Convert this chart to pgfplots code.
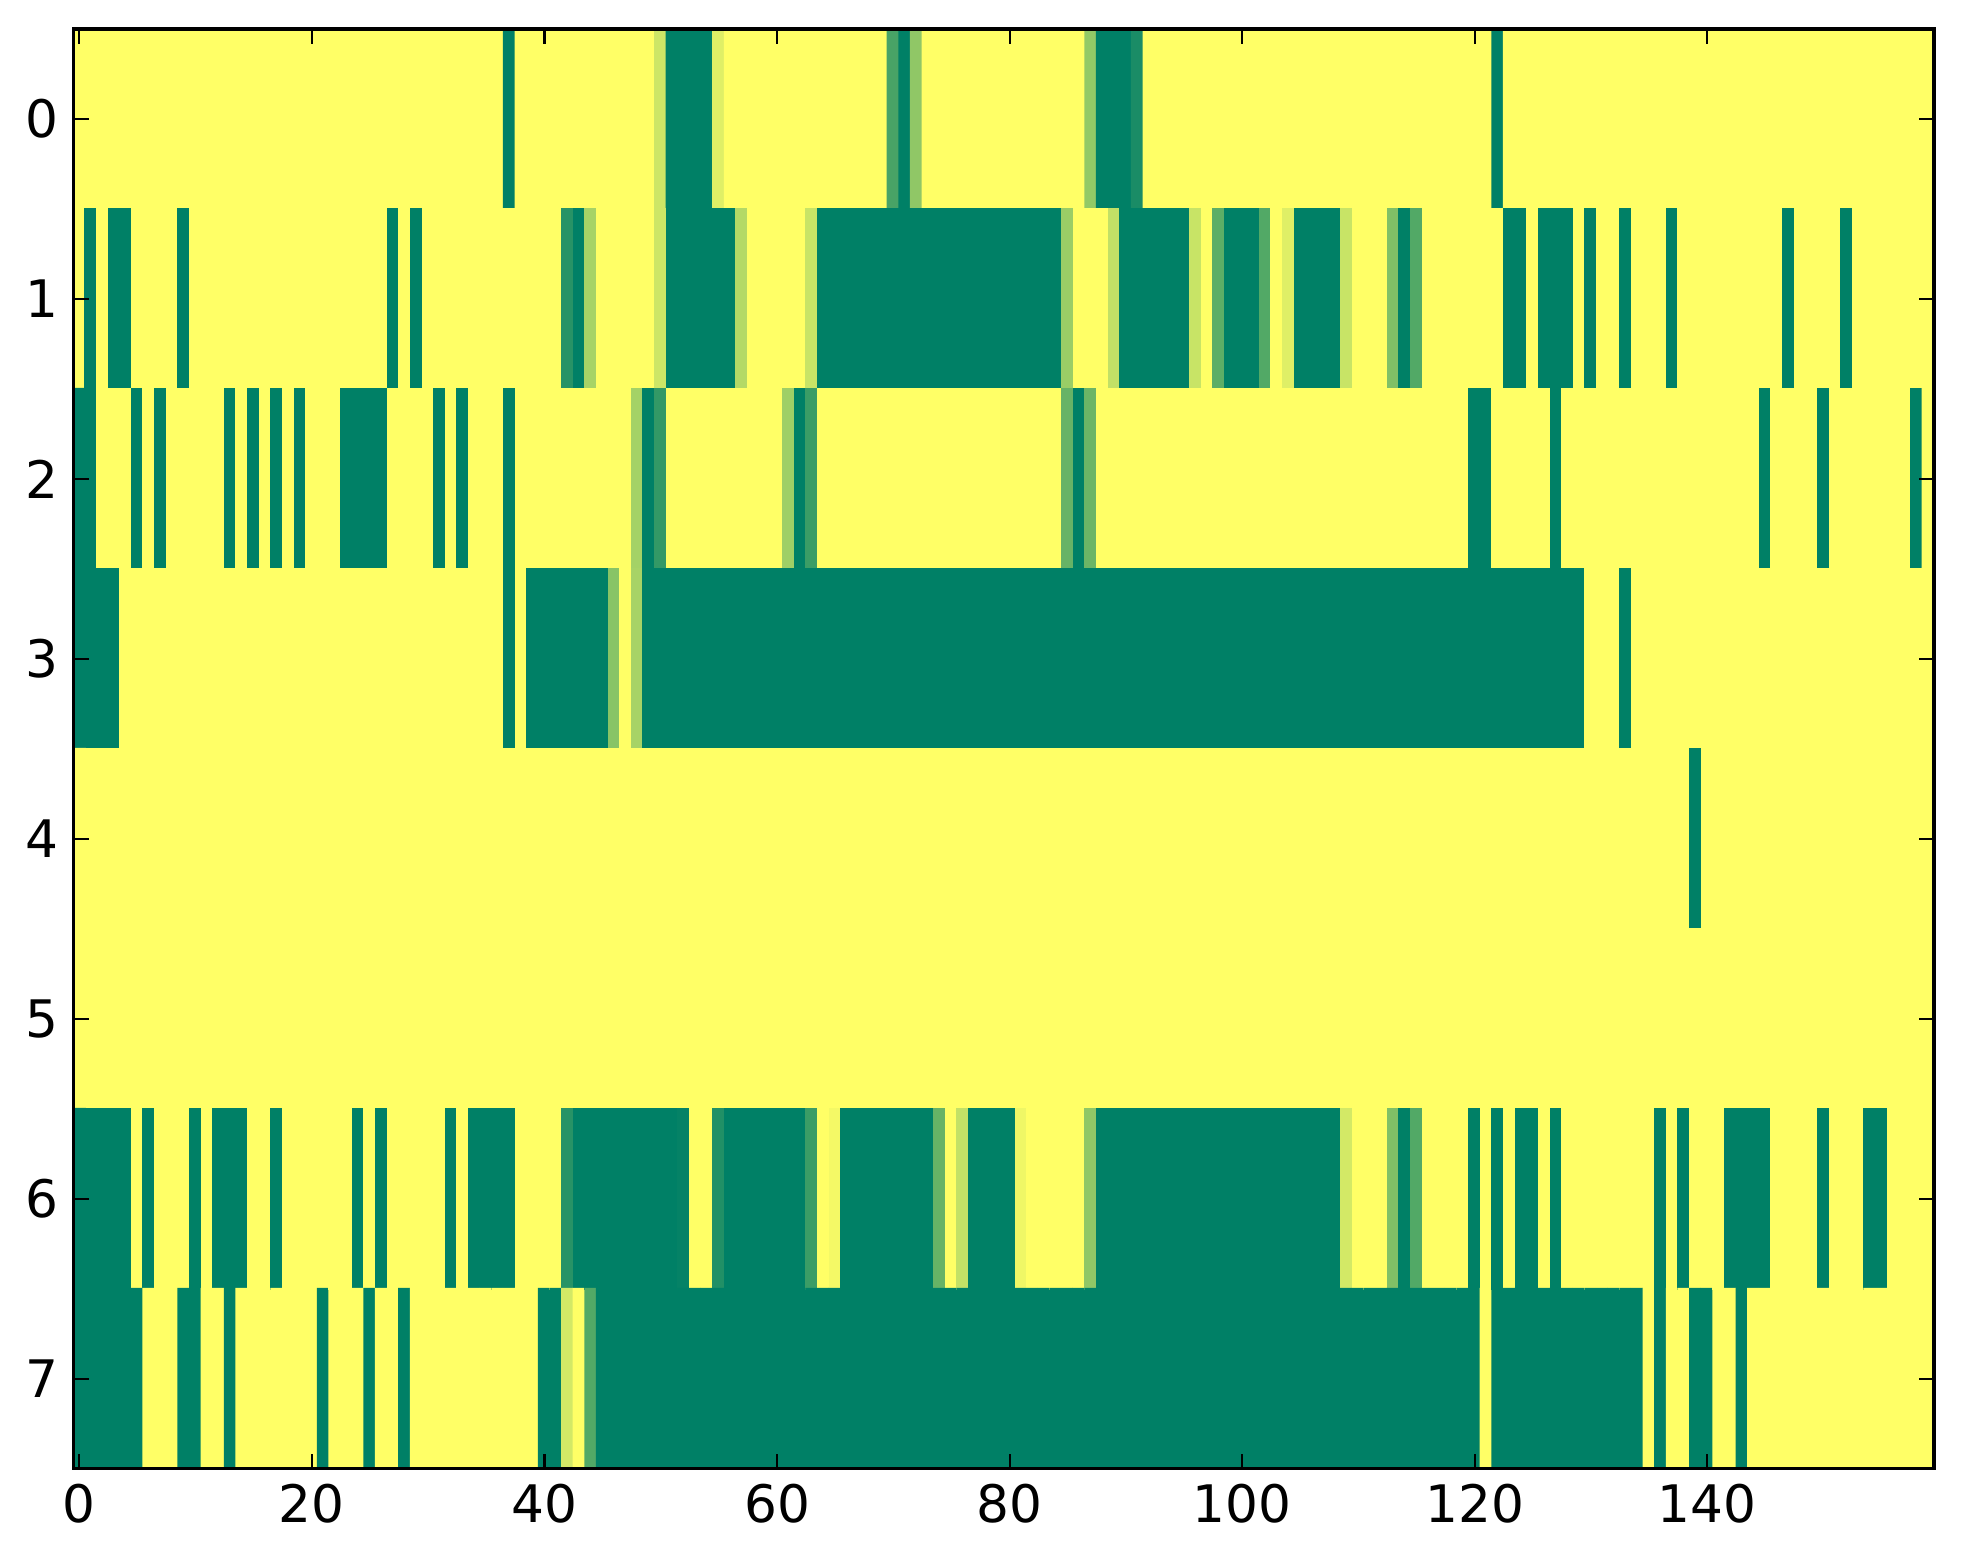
\documentclass[border=0pt]{standalone}
\usepackage{fontspec}
\setmainfont{DejaVu Sans}
\usepackage{pgfplots}
\pgfplotsset{compat=1.18}
\begin{document}
\begin{tikzpicture}
\begin{axis}[
  scale only axis, width=431.6pt, height=334pt,
  xmin=-0.5, xmax=159.5, ymin=-0.5, ymax=7.5,
  y dir=reverse, enlargelimits=false, axis on top,
  xtick={0,20,...,140}, ytick={0,...,7},
  tick align=inside, major tick length=3.5pt,
  axis line style={line width=0.8pt},
  tick style={line width=0.5pt, black},
  tick label style={font=\fontsize{12}{14}\selectfont},
  /pgf/number format/assume math mode=true,
  colormap={summer}{rgb=(0,0.5,0.4) rgb=(1,1,0.4)},
  point meta min=0, point meta max=1,
]
\addplot[matrix plot*, mesh/cols=160, point meta=explicit]
 table[row sep=\\, header=false, x expr={mod(\coordindex,160)}, y expr={floor(\coordindex/160)}, meta index=0] {
1\\1\\1\\1\\1\\1\\1\\1\\1\\1\\ 1\\1\\1\\1\\1\\1\\1\\1\\1\\1\\ 1\\1\\1\\1\\1\\1\\1\\1\\1\\1\\ 1\\1\\1\\1\\1\\1\\1\\0\\1\\1\\ 1\\1\\1\\1\\1\\1\\1\\1\\1\\1\\ 0.8\\0\\0\\0\\0\\0.87\\1\\1\\1\\1\\ 1\\1\\1\\1\\1\\1\\1\\1\\1\\1\\ 0.28\\0\\0.56\\1\\1\\1\\1\\1\\1\\1\\ 1\\1\\1\\1\\1\\1\\1\\0.57\\0\\0\\ 0\\0.1\\1\\1\\1\\1\\1\\1\\1\\1\\ 1\\1\\1\\1\\1\\1\\1\\1\\1\\1\\ 1\\1\\1\\1\\1\\1\\1\\1\\1\\1\\ 1\\1\\0\\1\\1\\1\\1\\1\\1\\1\\ 1\\1\\1\\1\\1\\1\\1\\1\\1\\1\\ 1\\1\\1\\1\\1\\1\\1\\1\\1\\1\\ 1\\1\\1\\1\\1\\1\\1\\1\\1\\1\\
1\\0\\1\\0\\0\\1\\1\\1\\1\\0\\ 1\\1\\1\\1\\1\\1\\1\\1\\1\\1\\ 1\\1\\1\\1\\1\\1\\1\\0\\1\\0\\ 1\\1\\1\\1\\1\\1\\1\\1\\1\\1\\ 1\\1\\0.15\\0\\0.65\\1\\1\\1\\1\\1\\ 0.8\\0\\0\\0\\0\\0\\0\\0.7\\1\\1\\ 1\\1\\1\\0.78\\0\\0\\0\\0\\0\\0\\ 0\\0\\0\\0\\0\\0\\0\\0\\0\\0\\ 0\\0\\0\\0\\0\\0.6\\1\\1\\1\\0.75\\ 0\\0\\0\\0\\0\\0\\0.78\\1\\0.36\\0\\ 0\\0\\0.32\\1\\0.87\\0\\0\\0\\0\\0.78\\ 1\\1\\1\\0.5\\0\\0.32\\1\\1\\1\\1\\ 1\\1\\1\\0\\0\\1\\0\\0\\0\\1\\ 0\\1\\1\\0\\1\\1\\1\\0\\1\\1\\ 1\\1\\1\\1\\1\\1\\1\\0\\1\\1\\ 1\\1\\0\\1\\1\\1\\1\\1\\1\\1\\
0\\0\\1\\1\\1\\0\\1\\0\\1\\1\\ 1\\1\\1\\0\\1\\0\\1\\0\\1\\0\\ 1\\1\\1\\0\\0\\0\\0\\1\\1\\1\\ 1\\0\\1\\0\\1\\1\\1\\0\\1\\1\\ 1\\1\\1\\1\\1\\1\\1\\1\\0.64\\0\\ 0.2\\1\\1\\1\\1\\1\\1\\1\\1\\1\\ 1\\0.62\\0\\0.23\\1\\1\\1\\1\\1\\1\\ 1\\1\\1\\1\\1\\1\\1\\1\\1\\1\\ 1\\1\\1\\1\\1\\0.4\\0\\0.42\\1\\1\\ 1\\1\\1\\1\\1\\1\\1\\1\\1\\1\\ 1\\1\\1\\1\\1\\1\\1\\1\\1\\1\\ 1\\1\\1\\1\\1\\1\\1\\1\\1\\1\\ 0\\0\\1\\1\\1\\1\\1\\0\\1\\1\\ 1\\1\\1\\1\\1\\1\\1\\1\\1\\1\\ 1\\1\\1\\1\\1\\0\\1\\1\\1\\1\\ 0\\1\\1\\1\\1\\1\\1\\1\\0\\1\\
0\\0\\0\\0\\1\\1\\1\\1\\1\\1\\ 1\\1\\1\\1\\1\\1\\1\\1\\1\\1\\ 1\\1\\1\\1\\1\\1\\1\\1\\1\\1\\ 1\\1\\1\\1\\1\\1\\1\\0\\1\\0\\ 0\\0\\0\\0\\0\\0\\0.53\\1\\0.65\\0\\ 0\\0\\0\\0\\0\\0\\0\\0\\0\\0\\ 0\\0\\0\\0\\0\\0\\0\\0\\0\\0\\ 0\\0\\0\\0\\0\\0\\0\\0\\0\\0\\ 0\\0\\0\\0\\0\\0\\0\\0\\0\\0\\ 0\\0\\0\\0\\0\\0\\0\\0\\0\\0\\ 0\\0\\0\\0\\0\\0\\0\\0\\0\\0\\ 0\\0\\0\\0\\0\\0\\0\\0\\0\\0\\ 0\\0\\0\\0\\0\\0\\0\\0\\0\\0\\ 1\\1\\1\\0\\1\\1\\1\\1\\1\\1\\ 1\\1\\1\\1\\1\\1\\1\\1\\1\\1\\ 1\\1\\1\\1\\1\\1\\1\\1\\1\\1\\
1\\1\\1\\1\\1\\1\\1\\1\\1\\1\\ 1\\1\\1\\1\\1\\1\\1\\1\\1\\1\\ 1\\1\\1\\1\\1\\1\\1\\1\\1\\1\\ 1\\1\\1\\1\\1\\1\\1\\1\\1\\1\\ 1\\1\\1\\1\\1\\1\\1\\1\\1\\1\\ 1\\1\\1\\1\\1\\1\\1\\1\\1\\1\\ 1\\1\\1\\1\\1\\1\\1\\1\\1\\1\\ 1\\1\\1\\1\\1\\1\\1\\1\\1\\1\\ 1\\1\\1\\1\\1\\1\\1\\1\\1\\1\\ 1\\1\\1\\1\\1\\1\\1\\1\\1\\1\\ 1\\1\\1\\1\\1\\1\\1\\1\\1\\1\\ 1\\1\\1\\1\\1\\1\\1\\1\\1\\1\\ 1\\1\\1\\1\\1\\1\\1\\1\\1\\1\\ 1\\1\\1\\1\\1\\1\\1\\1\\1\\0\\ 1\\1\\1\\1\\1\\1\\1\\1\\1\\1\\ 1\\1\\1\\1\\1\\1\\1\\1\\1\\1\\
1\\1\\1\\1\\1\\1\\1\\1\\1\\1\\ 1\\1\\1\\1\\1\\1\\1\\1\\1\\1\\ 1\\1\\1\\1\\1\\1\\1\\1\\1\\1\\ 1\\1\\1\\1\\1\\1\\1\\1\\1\\1\\ 1\\1\\1\\1\\1\\1\\1\\1\\1\\1\\ 1\\1\\1\\1\\1\\1\\1\\1\\1\\1\\ 1\\1\\1\\1\\1\\1\\1\\1\\1\\1\\ 1\\1\\1\\1\\1\\1\\1\\1\\1\\1\\ 1\\1\\1\\1\\1\\1\\1\\1\\1\\1\\ 1\\1\\1\\1\\1\\1\\1\\1\\1\\1\\ 1\\1\\1\\1\\1\\1\\1\\1\\1\\1\\ 1\\1\\1\\1\\1\\1\\1\\1\\1\\1\\ 1\\1\\1\\1\\1\\1\\1\\1\\1\\1\\ 1\\1\\1\\1\\1\\1\\1\\1\\1\\1\\ 1\\1\\1\\1\\1\\1\\1\\1\\1\\1\\ 1\\1\\1\\1\\1\\1\\1\\1\\1\\1\\
0\\0\\0\\0\\0\\1\\0\\1\\1\\1\\ 0\\1\\0\\0\\0\\1\\1\\0\\1\\1\\ 1\\1\\1\\1\\0\\1\\0\\1\\1\\1\\ 1\\1\\0\\1\\0\\0\\0\\0\\1\\1\\ 1\\1\\0.15\\0\\0\\0\\0\\0\\0\\0\\ 0\\0\\0.02\\1\\1\\0.13\\0\\0\\0\\0\\ 0\\0\\0\\0.23\\1\\0.95\\0\\0\\0\\0\\ 0\\0\\0\\0\\0.4\\1\\0.76\\0\\0\\0\\ 0\\0.93\\1\\1\\1\\1\\1\\0.56\\0\\0\\ 0\\0\\0\\0\\0\\0\\0\\0\\0\\0\\ 0\\0\\0\\0\\0\\0\\0\\0\\0\\0.82\\ 1\\1\\1\\0.5\\0\\0.32\\1\\1\\1\\1\\ 0\\1\\0\\1\\0\\0\\1\\0\\1\\1\\ 1\\1\\1\\1\\1\\1\\0\\1\\0\\1\\ 1\\1\\0\\0\\0\\0\\1\\1\\1\\1\\ 0\\1\\1\\1\\0\\0\\1\\1\\1\\1\\
0\\0\\0\\0\\0\\0\\1\\1\\1\\0\\ 0\\1\\1\\0\\1\\1\\1\\1\\1\\1\\ 1\\0\\1\\1\\1\\0\\1\\1\\0\\1\\ 1\\1\\1\\1\\1\\1\\1\\1\\1\\1\\ 0\\0\\0.82\\1\\0.32\\0\\0\\0\\0\\0\\ 0\\0\\0\\0\\0\\0\\0\\0\\0\\0\\ 0\\0\\0\\0\\0\\0\\0\\0\\0\\0\\ 0\\0\\0\\0\\0\\0\\0\\0\\0\\0\\ 0\\0\\0\\0\\0\\0\\0\\0\\0\\0\\ 0\\0\\0\\0\\0\\0\\0\\0\\0\\0\\ 0\\0\\0\\0\\0\\0\\0\\0\\0\\0\\ 0\\0\\0\\0\\0\\0\\0\\0\\0\\0\\ 0\\1\\0\\0\\0\\0\\0\\0\\0\\0\\ 0\\0\\0\\0\\0\\1\\0\\1\\1\\0\\ 0\\1\\1\\0\\1\\1\\1\\1\\1\\1\\ 1\\1\\1\\1\\1\\1\\1\\1\\1\\1\\
};
\end{axis}
\pgfresetboundingbox
\path[use as bounding box] ([xshift=-17.05pt,yshift=-22pt]current axis.south west) rectangle ([xshift=6.7pt,yshift=6.7pt]current axis.north east);
\end{tikzpicture}
\end{document}
